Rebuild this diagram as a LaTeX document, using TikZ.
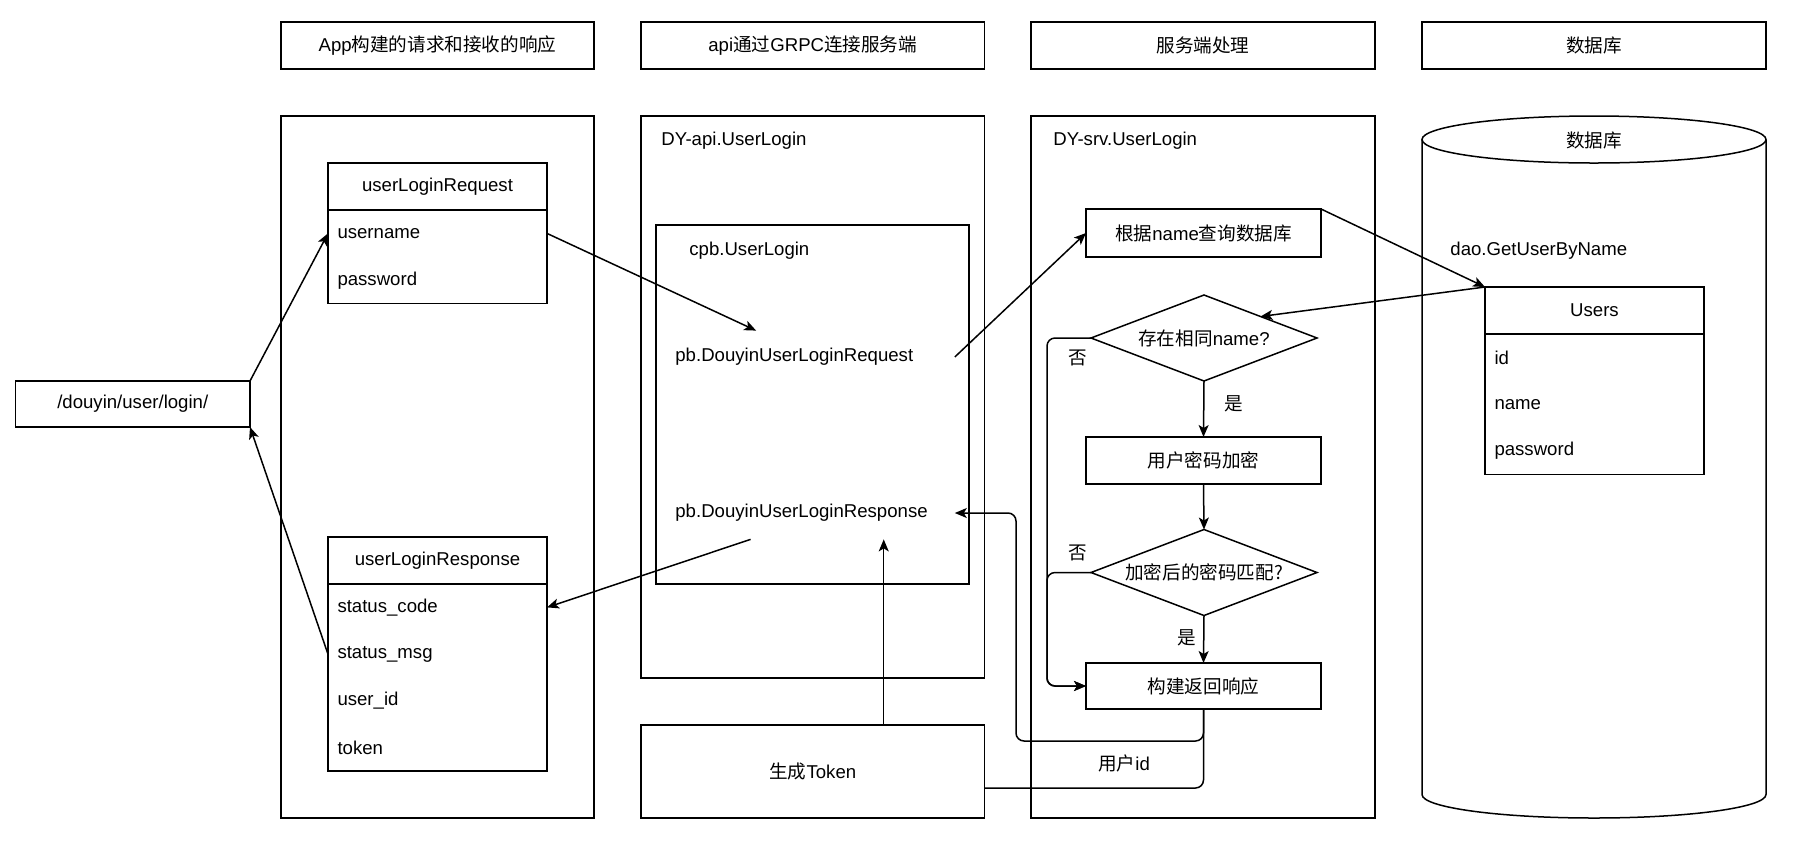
\documentclass[tikz,border=0pt]{standalone}
\usepackage{fontspec}
\setmainfont{Liberation Sans}
\newfontfamily\cjk{Noto Sans CJK SC}
\usetikzlibrary{positioning,shapes.geometric,arrows.meta,calc}

\tikzset{
  box/.style={draw, line width=0.75pt, inner sep=0pt, outer sep=0pt},
  tbhead/.style={box, minimum width=109.5pt, minimum height=23.5pt},
  tbrow/.style={inner xsep=4.75pt, inner ysep=0pt, outer sep=0pt, text width=100pt, minimum height=23.4pt, align=left},
  decide/.style={draw, line width=0.75pt, shape=diamond, aspect=2.63, minimum width=113pt, minimum height=43pt, inner sep=0pt, outer sep=0pt},
  plain/.style={inner sep=0pt, anchor=west},
  arr/.style={-{Stealth[length=6pt,width=5pt,inset=1.5pt]}, line width=0.75pt},
}

\begin{document}
\begin{tikzpicture}[x=0.5pt, y=-0.5pt, font=\fontsize{9.3pt}{11pt}\selectfont]
    \useasboundingbox (0,0) rectangle (1795,842);

    % column titles
    \node[box, minimum width=156.5pt, minimum height=23.5pt] (apphead) at (437.5,45.5) {App{\cjk 构建的请求和接收的响应}};
    \node[box, minimum width=171.75pt, minimum height=23.5pt] (grpchead) at (812.75,45.5) {api{\cjk 通过}GRPC{\cjk 连接服务端}};
    \node[box, minimum width=172pt, minimum height=23.5pt] (srvhead) at (1203,45.5) {\cjk 服务端处理};
    \node[box, minimum width=172pt, minimum height=23.5pt] (dbhead) at (1594,45.5) {\cjk 数据库};

    % lanes
    \draw[line width=0.75pt] (281,116) rectangle (594,818);
    \draw[line width=0.75pt] (641,116) rectangle (984.5,678);
    \draw[line width=0.75pt] (656,225) rectangle (969,584);
    \draw[line width=0.75pt] (1031,116) rectangle (1375,818);
    \draw[line width=0.75pt] (1422,139.5) -- (1422,794.5)
        arc[start angle=180, end angle=360, x radius=86pt, y radius=11.75pt] -- (1766,139.5);
    \draw[line width=0.75pt] (1594,139.5) ellipse [x radius=86pt, y radius=11.75pt];

    \node[plain] (apititle) at (661,141) {DY-api.UserLogin};
    \node[plain] (cpbtitle) at (689,250.5) {cpb.UserLogin};
    \node[plain] (srvtitle) at (1053,141) {DY-srv.UserLogin};
    \node (dbtitle) at (1594,140) {\cjk 数据库};
    \node[plain] (daotext) at (1450,250.5) {dao.GetUserByName};

    % client side
    \node[box, minimum width=117.25pt, minimum height=23pt] (url) at (132.75,404) {/douyin/user/login/};

    \node[tbhead] (reqhead) at (437.5,186.5) {userLoginRequest};
    \node[tbrow, below=0pt of reqhead] (reqname) {username};
    \node[tbrow, below=0pt of reqname] (reqpwd) {password};
    \draw[line width=0.75pt] (reqname.north west) rectangle (reqpwd.south east);

    \node[tbhead] (reshead) at (437.5,560.5) {userLoginResponse};
    \node[tbrow, below=0pt of reshead] (rescode) {status\_code};
    \node[tbrow, below=0pt of rescode] (resmsg) {status\_msg};
    \node[tbrow, below=0pt of resmsg] (resuid) {user\_id};
    \node[tbrow, below=0pt of resuid] (restoken) {token};
    \draw[line width=0.75pt] (rescode.north west) rectangle (restoken.south east);

    % api
    \node[plain, text width=139.5pt, minimum height=26pt, align=left] (pbreq) at (675,357) {pb.DouyinUserLoginRequest};
    \node[plain, text width=139.5pt, minimum height=26pt, align=left] (pbresp) at (675,513) {pb.DouyinUserLoginResponse};
    \node[box, minimum width=171.75pt, minimum height=46.5pt] (token) at (812.75,771.5) {{\cjk 生成}Token};

    \coordinate (reqin) at ($(pbreq.north west)!.29!(pbreq.north east)$);
    \coordinate (respout) at ($(pbresp.south west)!.27!(pbresp.south east)$);
    \coordinate (tokin) at ($(pbresp.south west)!.746!(pbresp.south east)$);

    % server
    \node[box, minimum width=117.5pt, minimum height=24pt] (query) at (1203.5,233) {{\cjk 根据}name{\cjk 查询数据库}};
    \node[decide] (same) at (1204,338) {{\cjk 存在相同}name?};
    \node[box, minimum width=117.5pt, minimum height=23.5pt] (encrypt) at (1203.5,460.5) {\cjk 用户密码加密};
    \node[decide] (match) at (1204,572.5) {\cjk 加密后的密码匹配?};
    \node[box, minimum width=117.5pt, minimum height=23pt] (reply) at (1203.5,686) {\cjk 构建返回响应};

    % database table
    \node[tbhead] (usershead) at (1594.5,310.5) {Users};
    \node[tbrow, below=0pt of usershead] (usersid) {id};
    \node[tbrow, below=0pt of usersid] (usersname) {name};
    \node[tbrow, below=0pt of usersname] (userspwd) {password};
    \draw[line width=0.75pt] (usersid.north west) rectangle (userspwd.south east);

    % connectors
    \draw[arr] (url.north east) -- (reqname.west);
    \draw[arr] (reqname.east) -- (reqin);
    \draw[arr] (pbreq.east) -- (query.west);
    \draw[arr] (query.north east) -- (usershead.north west);
    \draw[arr] (usershead.north west) -- (same.north east);
    \draw[arr] (same.south) -- (encrypt.north);
    \draw[arr] (encrypt.south) -- (match.north);
    \draw[arr] (match.south) -- (reply.north);
    \draw[arr, rounded corners=4pt] (same.west) -- ++(-44,0) |- (reply.west);
    \draw[arr, rounded corners=4pt] (match.west) -- ++(-44,0) |- (reply.west);
    \draw[arr, rounded corners=4pt] (reply.south) |- (1016,741) |- (pbresp.east);
    \draw[line width=0.75pt, rounded corners=4pt] ([yshift=-8.25pt]token.east) -| (reply.south);
    \draw[arr] (tokin |- token.north) -- (tokin);
    \draw[arr] (respout) -- (rescode.east);
    \draw[arr] (resmsg.west) -- (url.south east);

    \node (no1) at (1078,358) {\cjk 否};
    \node (yes1) at (1234,404) {\cjk 是};
    \node (no2) at (1078,553) {\cjk 否};
    \node (yes2) at (1187,638) {\cjk 是};
    \node (uid) at (1124,763) {{\cjk 用户}id};
\end{tikzpicture}
\end{document}
